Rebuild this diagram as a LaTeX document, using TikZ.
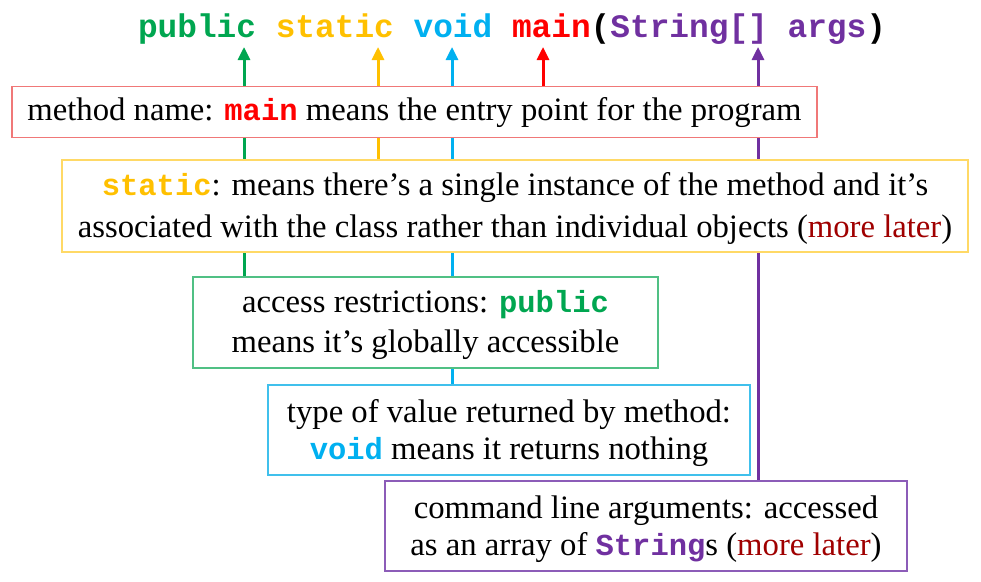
\documentclass[tikz,border=0pt]{standalone}
\usepackage{fontspec}
\setmainfont{Liberation Serif}
\setmonofont{Liberation Mono}
\usetikzlibrary{arrows.meta,backgrounds}
\definecolor{cgreen}{HTML}{00A650}
\definecolor{cyellow}{HTML}{FFC000}
\definecolor{cblue}{HTML}{00B0F0}
\definecolor{cred}{HTML}{FF0000}
\definecolor{cpurple}{HTML}{7030A0}
\definecolor{cdark}{HTML}{A00000}
\definecolor{bred}{HTML}{F07878}
\definecolor{byellow}{HTML}{FFD966}
\definecolor{bgreen}{HTML}{50C084}
\definecolor{bblue}{HTML}{40C0EC}
\definecolor{bpurple}{HTML}{8C5CB8}
\newcommand{\cw}[2]{\textcolor{#1}{\fontsize{30.5}{42}\selectfont\ttfamily\bfseries #2}}
\newcommand{\topstrut}{\rule{0pt}{28pt}}
\tikzset{
  box/.style={draw, fill=white, line width=1.3pt, inner sep=0pt, align=center},
  bskip/.style={font=\fontsize{32.7}{#1}\selectfont},
  conn/.style={line width=3pt, -{Triangle[width=12pt,length=13pt]}}
}
\begin{document}
\begin{tikzpicture}[x=1pt,y=-1pt]
\useasboundingbox (0,0) rectangle (981,581);
\node[anchor=base, inner sep=0pt, font=\fontsize{32.8}{40}\selectfont\ttfamily\bfseries] (title) at (512,37)
 {\textcolor{cgreen}{public} \textcolor{cyellow}{static} \textcolor{cblue}{void} \textcolor{cred}{main}(\textcolor{cpurple}{String[]} \textcolor{cpurple}{args})};
\coordinate (tG) at (244,47);
\coordinate (tY) at (378,47);
\coordinate (tB) at (452,47);
\coordinate (tR) at (543,47);
\coordinate (tP) at (758,47);
\node[box, bskip=42, draw=bred, minimum width=805pt, minimum height=51pt] (mname) at (414.5,112)
 {\rule{0pt}{25pt}method name: \cw{cred}{main} means the entry point for the program};
\node[box, bskip=42, draw=byellow, minimum width=906pt, minimum height=92pt] (static) at (515,206)
 {\topstrut\cw{cyellow}{static}: means there’s a single instance of the method and it’s\\associated with the class rather than individual objects (\textcolor{cdark}{more later})};
\node[box, bskip=40, draw=bgreen, minimum width=465pt, minimum height=91pt] (public) at (425.5,322.5)
 {\topstrut access restrictions: \cw{cgreen}{public}\\means it’s globally accessible};
\node[box, bskip=37, draw=bblue, minimum width=482pt, minimum height=90pt] (void) at (509,430)
 {\rule{0pt}{29pt}type of value returned by method:\\\cw{cblue}{void} means it returns nothing};
\node[box, bskip=37, draw=bpurple, minimum width=522pt, minimum height=90pt] (args) at (646,526)
 {\rule{0pt}{29pt}command line arguments: accessed\\as an array of \cw{cpurple}{String}s (\textcolor{cdark}{more later})};
\begin{scope}[on background layer]
\draw[conn, cred] (mname.north -| tR) -- (tR);
\draw[conn, cyellow] (static.north -| tY) -- (tY);
\draw[conn, cgreen] (public.north -| tG) -- (tG);
\draw[conn, cblue] (void.north -| tB) -- (tB);
\draw[conn, cpurple] (args.north -| tP) -- (tP);
\end{scope}
\end{tikzpicture}
\end{document}
